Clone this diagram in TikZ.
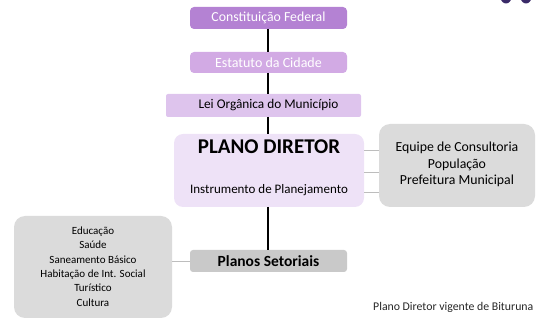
\documentclass[tikz,border=0pt]{standalone}
\usepackage{fontspec}
\setmainfont{Carlito}
\definecolor{cfpurple}{HTML}{B482D3}
\definecolor{ecpurple}{HTML}{D2AAE4}
\definecolor{lopurple}{HTML}{DEC4ED}
\definecolor{pdpurple}{HTML}{EEE2F7}
\definecolor{boxgray}{HTML}{DBDBDB}
\definecolor{psgray}{HTML}{C9C9C9}
\definecolor{linegray}{HTML}{BDBDBD}
\definecolor{logopurple}{HTML}{3A2A68}
\begin{document}
\begin{tikzpicture}[x=1pt,y=-1pt,
  lvl/.style={rounded corners=4pt, draw=none, inner sep=0pt},
  spine/.style={line width=1.4pt, black},
  side/.style={line width=0.8pt, linegray}]
\useasboundingbox (0,0) rectangle (536,320);
\begin{scope}
\clip (0,0) rectangle (536,320);
% logo fragment top right
\fill[logopurple] (506,-3) ellipse (5.5 and 6.5);
\fill[logopurple] (526,-3) ellipse (5.5 and 6.5);
% boxes
\fill[lvl, cfpurple] (190,7) rectangle (347,29);
\node[text=white, font=\fontsize{13.8}{15}\selectfont] (cf) at (268.5,18) {Constituição Federal};
\fill[lvl, ecpurple] (190,52) rectangle (347,73);
\node[text=white, font=\fontsize{14}{15}\selectfont] (ec) at (268.5,62.5) {Estatuto da Cidade};
\fill[lopurple, rounded corners=2pt] (166,94) rectangle (361,117);
\node[font=\fontsize{13.3}{15}\selectfont] (lo) at (268.5,105.5) {Lei Orgânica do Município};
\fill[pdpurple, rounded corners=9pt] (174,134) rectangle (364,207);
\node[font=\fontsize{21}{23}\selectfont\bfseries, inner sep=0pt] (pdt) at (269,147) {PLANO DIRETOR};
\node[font=\fontsize{13}{15}\selectfont] (pds) at (269,190) {Instrumento de Planejamento};
\coordinate (pdtop) at (268,134);
\coordinate (pdbot) at (268,207);
\fill[boxgray, rounded corners=11pt] (379,124) rectangle (535,207);
\node[font=\fontsize{13.8}{16.5}\selectfont, align=center] (gr) at (457,164.5) {Equipe de Consultoria\\População\\Prefeitura Municipal};
\fill[psgray, rounded corners=3pt] (190,250) rectangle (347,272);
\node[font=\fontsize{15.5}{17}\selectfont\bfseries] (ps) at (268.5,261) {Planos Setoriais};
\fill[boxgray, rounded corners=11pt] (14,216) rectangle (172,318);
\node[font=\fontsize{11}{14.3}\selectfont, align=center] (lb) at (93,266.5) {Educação\\Saúde\\Saneamento Básico\\Habitação de Int. Social\\Turístico\\Cultura};
% connectors
\coordinate (cfb) at (268,29);
\coordinate (ect) at (268,52);
\coordinate (ecb) at (268,73);
\coordinate (lot) at (268,94);
\coordinate (lob) at (268,117);
\coordinate (pst) at (268,250);
\draw[spine] (cfb) -- (ect);
\draw[spine] (ecb) -- (lot);
\draw[spine] (lob) -- (pdtop);
\draw[spine] (pdbot) -- (pst);
\coordinate (r1a) at (364,150); \coordinate (r1b) at (379,150);
\coordinate (r2a) at (364,172); \coordinate (r2b) at (379,172);
\coordinate (r3a) at (364,192); \coordinate (r3b) at (379,192);
\draw[side] (r1a) -- (r1b);
\draw[side] (r2a) -- (r2b);
\draw[side] (r3a) -- (r3b);
\coordinate (lbr) at (172,261);
\coordinate (psl) at (190,261);
\draw[side] (lbr) -- (psl);
% caption
\node[anchor=west, inner sep=0pt, font=\fontsize{11.8}{14}\selectfont, text=black!85] (cap) at (373,307) {Plano Diretor vigente de Bituruna};
\end{scope}
\end{tikzpicture}
\end{document}
